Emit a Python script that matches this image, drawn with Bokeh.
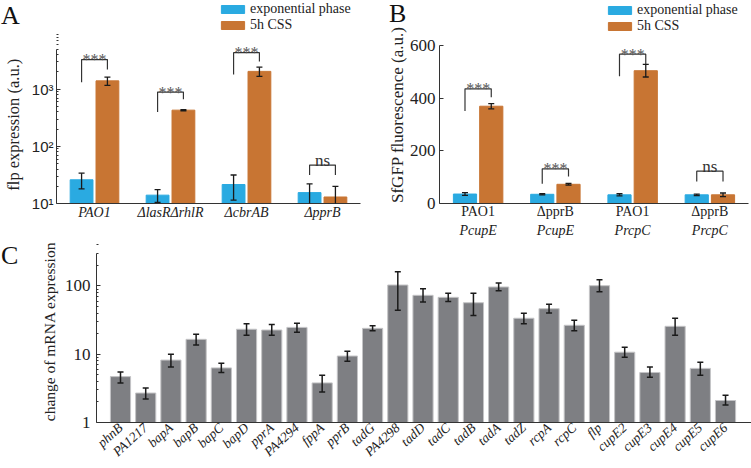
import numpy as np
from bokeh.plotting import figure
from bokeh.models import (ColumnDataSource, Whisker, TeeHead, Legend, LegendItem,
                          LinearAxis, Range1d, FixedTicker, Div)
from bokeh.layouts import column, row
from bokeh.embed import file_html
from bokeh.resources import INLINE
from bokeh.core.properties import value

# ---------------- data: panel A ----------------
groups_A = ["PAO1", "ΔlasRΔrhlR", "ΔcbrAB", "ΔpprB"]
exp_A = [26, 14, 21.5, 15.5]
exp_A_err = [8, 3.5, 10, 6.5]
css_A = [1400, 430, 2050, 13]
css_A_err = [230, 10, 380, 7]
brk_A_top = [3300, 890, 4350, 47]
brk_A_left = [1320, 400, 1815, 31.6]
brk_A_right = [2215, 670, 3040, 31.6]
sig_A = ["***", "***", "***", "ns"]
yticks_A = [10, 100, 1000]
ytick_labels_A = ["10¹", "10²", "10³"]

# ---------------- data: panel B ----------------
groups_B_line1 = ["PAO1", "ΔpprB", "PAO1", "ΔpprB"]
groups_B_line2 = ["PcupE", "PcupE", "PrcpC", "PrcpC"]
exp_B = [36, 35, 33, 33]
exp_B_err = [5, 2, 4, 3]
css_B = [370, 73, 505, 33]
css_B_err = [10, 3, 24, 7]
brk_B_top = [436, 132, 568, 123]
brk_B_left = [352, 75, 484, 84]
brk_B_right = [404, 103, 528, 84]
sig_B = ["***", "***", "***", "ns"]
yticks_B = [0, 200, 400, 600]

# ---------------- data: panel C ----------------
genes = ["phnB", "PA1217", "bapA", "bapB", "bapC", "bapD", "pprA", "PA4294",
         "fppA", "pprB", "tadG", "PA4298", "tadD", "tadC", "tadB", "tadA",
         "tadZ", "rcpA", "rcpC", "flp", "cupE2", "cupE3", "cupE4", "cupE5", "cupE6"]
vals_C = [4.7, 2.7, 8.2, 16.5, 6.3, 23.2, 22.6, 24.7, 3.8, 9.4, 23.9, 103, 72.8,
          68, 56.7, 96.4, 33.6, 46.4, 26.5, 100.7, 10.7, 5.4, 25.6, 6.2, 2.1]
upper_C = [5.5, 3.2, 10, 19.6, 7.4, 28, 27.2, 28.5, 4.9, 11, 26, 161, 91, 78, 78,
           110, 39.8, 53.8, 31.3, 123, 12.6, 6.5, 33.6, 7.6, 2.5]
lower_C = [3.8, 2.2, 6.5, 13.6, 5.4, 19, 18.9, 21, 2.8, 7.9, 22, 44, 58, 59, 37,
           85, 28, 40, 22, 82, 9, 4.6, 19, 4.9, 1.8]
yticks_C = [1, 10, 100]
ytick_labels_C = ["1", "10", "100"]

panel_letters = ["A", "B", "C"]

# ---------------- style ----------------
BLUE = "#2AAAE1"
ORANGE = "#C87533"
GRAY = "#7E7F83"
SERIF = "Liberation Serif"
SANS = "Liberation Sans"
INK = "#222222"
OFF = 0.17
BW = 0.3
NB = "\u00a0"


def style_axes(p):
    for ax in p.axis:
        ax.axis_line_color = "#333333"
        ax.axis_line_width = 1
        ax.major_tick_in = 4
        ax.major_tick_out = 0
        ax.minor_tick_in = 2
        ax.minor_tick_out = 0
        ax.major_tick_line_color = "#333333"
        ax.minor_tick_line_color = "#333333"
        ax.major_label_text_color = INK
        ax.axis_label_text_color = INK
        ax.axis_label_text_font = SERIF
        ax.axis_label_text_font_style = "normal"
    p.xaxis.major_tick_line_color = None
    p.xaxis.minor_tick_line_color = None
    p.grid.visible = False
    p.outline_line_color = None
    p.background_fill_color = "white"
    p.border_fill_color = "white"


def grouped_panel(p, xs, exp, exp_err, css, css_err, base, top, left, right, sig):
    xb = xs - OFF
    xo = xs + OFF
    src = ColumnDataSource(dict(
        xb=xb, xo=xo, exp=exp, css=css,
        exp_lo=np.array(exp) - np.array(exp_err), exp_hi=np.array(exp) + np.array(exp_err),
        css_lo=np.array(css) - np.array(css_err), css_hi=np.array(css) + np.array(css_err),
    ))
    rb = p.vbar(x="xb", top="exp", bottom=base, width=BW, source=src,
                fill_color=BLUE, line_color=BLUE)
    ro = p.vbar(x="xo", top="css", bottom=base, width=BW, source=src,
                fill_color=ORANGE, line_color=ORANGE)
    for b, lo, hi in (("xb", "exp_lo", "exp_hi"), ("xo", "css_lo", "css_hi")):
        w = Whisker(source=src, base=b, lower=lo, upper=hi, level="annotation",
                    line_color="#1a1a1a", line_width=1.3,
                    upper_head=TeeHead(size=6, line_color="#1a1a1a", line_width=1.3),
                    lower_head=TeeHead(size=6, line_color="#1a1a1a", line_width=1.3))
        p.add_layout(w)
    bx = [[a, a, c, c] for a, c in zip(xb, xo)]
    by = [[l, t, t, r] for l, t, r in zip(left, top, right)]
    p.multi_line(xs=bx, ys=by, line_color="#333333", line_width=1.2)
    stars = [i for i, s in enumerate(sig) if s != "ns"]
    ns = [i for i, s in enumerate(sig) if s == "ns"]
    p.text(x=[xs[i] for i in stars], y=[top[i] for i in stars], text=[sig[i] for i in stars],
           text_align="center", text_baseline="alphabetic", text_font=value(SERIF),
           text_font_size="16px", text_color="#555555")
    p.text(x=[xs[i] for i in ns], y=[top[i] for i in ns], text=[sig[i] for i in ns],
           text_align="center", text_baseline="alphabetic", y_offset=-5,
           text_font=value(SERIF), text_font_size="17px", text_color="#333333")
    legend = Legend(items=[LegendItem(label="exponential phase", renderers=[rb]),
                           LegendItem(label="5h CSS", renderers=[ro])])
    legend.glyph_width = 29
    legend.glyph_height = 10
    legend.label_standoff = 3
    legend.label_height = 10
    legend.spacing = 0
    legend.padding = 0
    legend.margin = 0
    legend.border_line_color = None
    legend.background_fill_alpha = 0
    legend.label_text_font = SERIF
    legend.label_text_font_size = "14px"
    legend.label_text_color = INK
    return legend


# ---------------- panel A ----------------
xA = np.arange(1, len(groups_A) + 1)
pA = figure(width=370, height=240, y_axis_type="log",
            x_range=Range1d(0.5, 4.5), y_range=Range1d(10, 35650),
            output_backend="svg", toolbar_location=None,
            min_border_left=51, min_border_right=10, min_border_top=0, min_border_bottom=34)
legA = grouped_panel(pA, xA, exp_A, exp_A_err, css_A, css_A_err, yticks_A[0],
                     brk_A_top, brk_A_left, brk_A_right, sig_A)
legA.location = (162, 170)
pA.add_layout(legA)
style_axes(pA)
pA.xaxis.ticker = FixedTicker(ticks=[int(v) for v in xA])
pA.xaxis.major_label_overrides = {int(i): g for i, g in zip(xA, groups_A)}
pA.xaxis.major_label_text_font = SERIF
pA.xaxis.major_label_text_font_style = "italic"
pA.xaxis.major_label_text_font_size = "14px"
pA.xaxis.major_label_standoff = 1
pA.yaxis.bounds = (10, 5000)
pA.yaxis.ticker = FixedTicker(ticks=yticks_A,
                              minor_ticks=[m * 10 ** k for k in (1, 2, 3) for m in range(2, 10)])
pA.yaxis.major_label_overrides = dict(zip(yticks_A, ytick_labels_A))
pA.yaxis.major_label_text_font = SANS
pA.yaxis.major_label_text_font_size = "15px"
pA.yaxis.major_label_standoff = 3
pA.yaxis.axis_label = "flp expression (a.u.)" + NB * 11
pA.yaxis.axis_label_text_font_size = "16.5px"
pA.yaxis.axis_label_standoff = 6

# ---------------- panel B ----------------
xB = np.arange(1, len(groups_B_line1) + 1)
pB = figure(width=381, height=240,
            x_range=Range1d(0.5, 4.5), y_range=Range1d(0, 772),
            output_backend="svg", toolbar_location=None,
            min_border_left=69, min_border_right=3, min_border_top=0, min_border_bottom=35)
legB = grouped_panel(pB, xB, exp_B, exp_B_err, css_B, css_B_err, yticks_B[0],
                     brk_B_top, brk_B_left, brk_B_right, sig_B)
legB.location = (166, 169)
pB.add_layout(legB)
line2_axis = LinearAxis(ticker=FixedTicker(ticks=[int(v) for v in xB]),
                        major_label_overrides={int(i): g for i, g in zip(xB, groups_B_line2)})
pB.add_layout(line2_axis, "below")
style_axes(pB)
for ax, labels, style, standoff in ((pB.xaxis[0], groups_B_line1, "normal", 0),
                                    (line2_axis, groups_B_line2, "italic", 1)):
    ax.ticker = FixedTicker(ticks=[int(v) for v in xB])
    ax.major_label_overrides = {int(i): g for i, g in zip(xB, labels)}
    ax.major_label_text_font = SERIF
    ax.major_label_text_font_style = style
    ax.major_label_text_font_size = "14px"
    ax.major_label_standoff = standoff
line2_axis.axis_line_color = None
pB.yaxis.bounds = (0, 600)
pB.yaxis.ticker = FixedTicker(ticks=yticks_B, minor_ticks=[])
pB.yaxis.major_label_text_font = SERIF
pB.yaxis.major_label_text_font_size = "17px"
pB.yaxis.major_label_standoff = 4
pB.yaxis.axis_label = "SfGFP fluorescence (a.u.)" + NB * 6
pB.yaxis.axis_label_text_font_size = "17px"
pB.yaxis.axis_label_standoff = 0

# ---------------- panel C ----------------
xC = np.arange(1, len(genes) + 1)
pC = figure(width=751, height=228, y_axis_type="log",
            x_range=Range1d(0.048, 26.03), y_range=Range1d(1, 462),
            output_backend="svg", toolbar_location=None,
            min_border_left=96, min_border_right=0, min_border_top=0, min_border_bottom=46)
srcC = ColumnDataSource(dict(x=xC, v=vals_C, lo=lower_C, hi=upper_C))
pC.vbar(x="x", top="v", bottom=yticks_C[0], width=0.8, source=srcC,
        fill_color=GRAY, line_color="#c4c4c6", line_width=1)
pC.add_layout(Whisker(source=srcC, base="x", lower="lo", upper="hi", level="annotation",
                      line_color="#1a1a1a", line_width=1.5,
                      upper_head=TeeHead(size=6, line_color="#1a1a1a", line_width=1.5),
                      lower_head=TeeHead(size=6, line_color="#1a1a1a", line_width=1.5)))
style_axes(pC)
pC.yaxis.bounds = (1, 300)
pC.yaxis.ticker = FixedTicker(ticks=yticks_C,
                              minor_ticks=[m * 10 ** k for k in (0, 1, 2) for m in range(2, 10)])
pC.yaxis.major_label_overrides = dict(zip(yticks_C, ytick_labels_C))
pC.yaxis.major_label_text_font = SERIF
pC.yaxis.major_label_text_font_size = "17px"
pC.yaxis.major_label_standoff = 6
pC.yaxis.axis_label = "change of mRNA expression"
pC.yaxis.axis_label_text_font_size = "15.5px"
pC.yaxis.axis_label_standoff = 4
pC.xaxis.ticker = FixedTicker(ticks=[int(v) for v in xC])
pC.xaxis.major_label_overrides = {int(i): g for i, g in zip(xC, genes)}
pC.xaxis.major_label_orientation = 0.74
pC.xaxis.major_label_text_font = SERIF
pC.xaxis.major_label_text_font_style = "italic"
pC.xaxis.major_label_text_font_size = "13.5px"
pC.xaxis.major_label_standoff = 3

# ---------------- panel letters (overlaid, placed after the plots) ----------------
TOTAL_H = 468
letter_pos = [(-4, -14), (384, -16), (-4, 226)]
span = ('<span style="position:absolute;left:{}px;top:{}px;font-family:\'Liberation Serif\';'
        'font-size:26px;line-height:26px;color:#111111;z-index:20;">{}</span>')
inner = "".join(span.format(x, y - TOTAL_H, t) for (x, y), t in zip(letter_pos, panel_letters))
letters = Div(text='<div style="position:relative;height:0;overflow:visible;">' + inner + '</div>')

layout = column(row(pA, pB), pC, letters)
open("out.html", "w").write(file_html(layout, INLINE))
